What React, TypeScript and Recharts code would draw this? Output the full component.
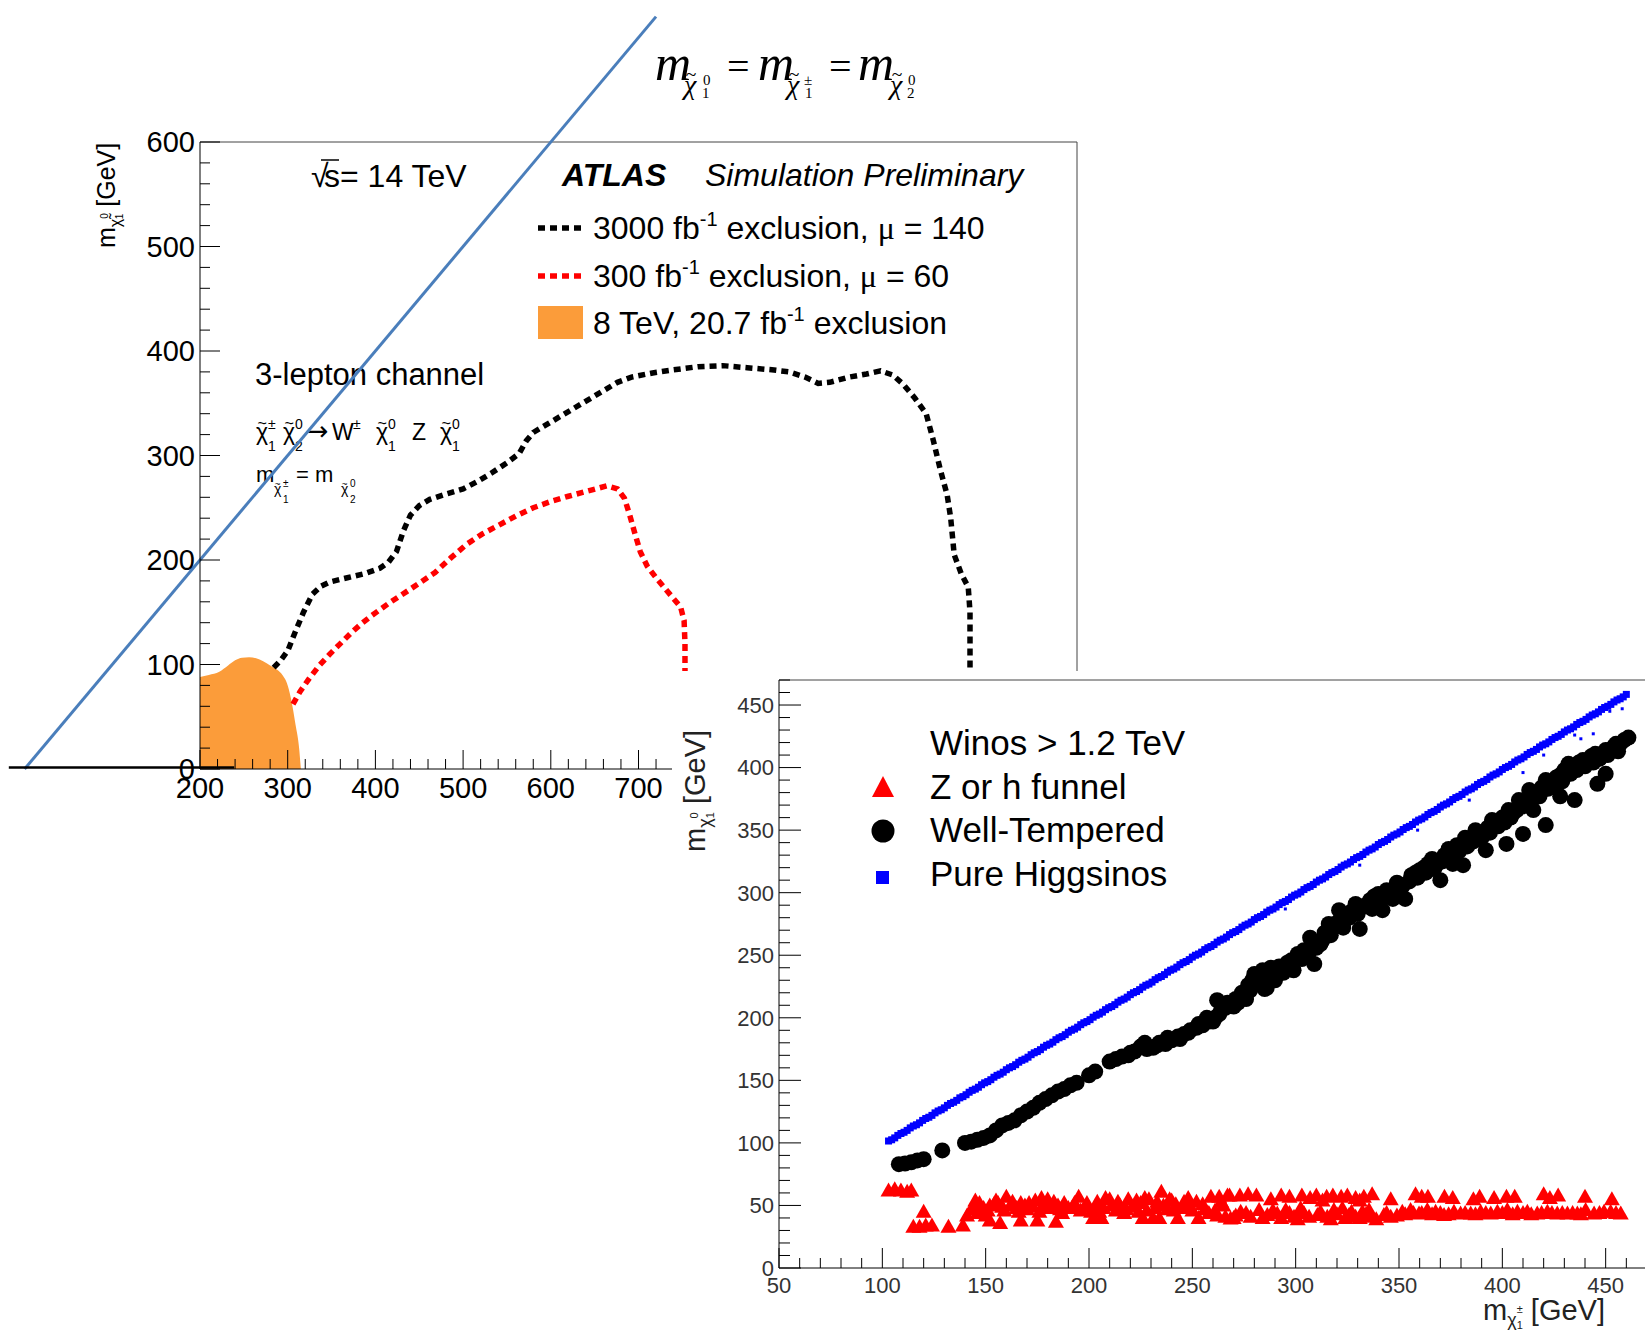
import React from 'react';
import { ComposedChart, Line, Area, XAxis, YAxis, ReferenceLine, ScatterChart, Scatter } from 'recharts';

const SANS = '"Liberation Sans", Arial, Helvetica, sans-serif';
const SERIF = '"Liberation Serif", "Times New Roman", serif';

// ---------------- Panel 1 : ATLAS 3-lepton projection ----------------
const black3000: [number, number][] = [
  [284, 97], [292, 104], [300, 113], [308, 130], [318, 150], [328, 167], [338, 175], [348, 179], [368, 183], [388, 187],
  [405, 192], [415, 198], [424, 208], [432, 228], [440, 243], [450, 252], [462, 258], [480, 263], [500, 268], [516, 275],
  [532, 283], [550, 293], [564, 302], [572, 314], [580, 322], [596, 330], [612, 338], [636, 350], [660, 362], [676, 370],
  [692, 375], [716, 379], [740, 382], [768, 385], [796, 386], [824, 384], [852, 382], [872, 380], [890, 375], [905, 369],
  [918, 370], [940, 375], [960, 378], [976, 381], [990, 377], [1002, 368], [1015, 355], [1028, 340], [1036, 315], [1044, 287],
  [1052, 262], [1056, 240], [1060, 205], [1068, 187], [1076, 174], [1078, 150], [1078, 120], [1078, 60],
];
const red300: [number, number][] = [
  [306, 62], [314, 74], [324, 86], [336, 99], [348, 110], [360, 120], [372, 130], [384, 139], [396, 147], [416, 159],
  [436, 170], [452, 179], [468, 188], [486, 202], [504, 215], [522, 225], [540, 233], [560, 242], [580, 250], [600, 256],
  [620, 261], [642, 266], [664, 271], [676, 268], [684, 259], [690, 243], [696, 225], [702, 208], [710, 194], [720, 183],
  [730, 173], [740, 163], [748, 155], [752, 142], [753, 120], [753, 60],
];
const orange8TeV: [number, number][] = [
  [200, 88], [210, 90], [222, 93], [232, 99], [240, 104], [248, 106.5], [256, 107], [264, 106], [272, 103], [280, 99],
  [288, 95], [294, 90], [300, 80], [305, 62], [309, 42], [313, 20], [315, 0],
];
const diagonalLine = [{ x: 0, y: 0 }, { x: 720, y: 720 }];
const zeroBar = [{ x: -18, y: 1.5 }, { x: 239, y: 1.5 }];

const p1XMajor = [200, 300, 400, 500, 600, 700, 800, 900, 1000, 1100, 1200];
const p1YMajor = [0, 100, 200, 300, 400, 500, 600];

// ---------------- Panel 2 : mass plane scatter ----------------
const funnelPts: [number, number][] = [
  [103, 62], [106, 63], [109, 62], [112, 61], [114, 62],
  [115, 33], [118, 33], [120, 45], [121, 34], [124, 34], [132, 33], [139, 34], [141, 42], [145, 54], [146, 44],
  [149, 48], [150, 42], [152, 50], [152, 38], [154, 51], [156, 52], [157, 36], [158, 49], [160, 57], [162, 50],
  [163, 53], [165, 48], [167, 52], [167, 38], [169, 50], [171, 52], [173, 49], [174, 54], [175, 38], [177, 56],
  [178, 50], [180, 55], [181, 48], [184, 37], [185, 50], [186, 47], [188, 52], [190, 48], [192, 49], [195, 57],
  [198, 49], [201, 45], [202, 40], [203, 48], [205, 45], [206, 40], [208, 56], [210, 55], [213, 46], [215, 50],
  [218, 47], [219, 55], [223, 54], [224, 45], [226, 40], [227, 56], [229, 55], [231, 40], [232, 48], [234, 40],
  [235, 61], [236, 50], [239, 55], [240, 54], [241, 46], [243, 40], [245, 48], [248, 56], [250, 46], [253, 40],
  [256, 47], [259, 57], [261, 46], [262, 42], [263, 57], [265, 50], [266, 41], [268, 58], [270, 40],
  [143, 47], [147, 52], [151, 46], [155, 54], [159, 46], [166, 45], [170, 47], [176, 45], [183, 53], [187, 44],
  [193, 52], [196, 46], [199, 52], [204, 53], [207, 48], [211, 50], [214, 53], [217, 44], [221, 49], [225, 52],
  [228, 46], [233, 53], [238, 47], [242, 51], [246, 53], [249, 49], [252, 53], [255, 51], [258, 44], [264, 53],
  [267, 58], [273, 58], [277, 59], [281, 58], [288, 55], [293, 58], [297, 57], [303, 58], [307, 56], [310, 58],
  [313, 54], [315, 57], [318, 58], [322, 57], [325, 58], [329, 56], [331, 54], [333, 57], [337, 59], [346, 55],
  [358, 59], [361, 57], [364, 57], [372, 57], [376, 56], [386, 55], [389, 57], [396, 56], [402, 57], [406, 57],
  [420, 59], [423, 56], [427, 58], [440, 57], [453, 55],
  [268.5, 39.6], [273.4, 45], [278.2, 41], [282.3, 46.4], [286.3, 42.3], [291.1, 43.6], [295.2, 46.4], [299.2, 41],
  [302.4, 47.7], [306.5, 41], [310.5, 42.3], [315.3, 41], [318.5, 46.4], [322.6, 47.7], [325.8, 42.3], [329, 41],
  [332.3, 45], [335.5, 46.4], [336.3, 41], [342.7, 42.3], [346, 41], [351.6, 45], [355.6, 46.4], [359.7, 43.6],
  [363.7, 46.4], [367.7, 45], [371.8, 42.3], [376.6, 45], [379.8, 43.6], [384.7, 43.6], [389.5, 45], [394.4, 43.6],
  [397.6, 45], [402.4, 46.4], [407.3, 45], [412.1, 45], [416.9, 43.6], [421.8, 45], [426.6, 43.6], [431.5, 43.6],
  [436.3, 43.6], [440.3, 46.4], [444.4, 43.6], [449.2, 45], [452.4, 45], [457.3, 43.6],
  [271, 42], [276, 44], [284, 40], [289, 46], [293, 40], [297, 44], [301, 39], [304, 44], [312, 45], [317, 39],
  [320, 43], [324, 40], [327, 45], [331, 40], [334, 43], [339, 39], [344, 44], [349, 42], [353, 43], [357, 44],
  [361, 44], [366, 43], [370, 44], [374, 43], [382, 44], [387, 43], [392, 44], [400, 44], [405, 43], [410, 44],
  [414, 43], [419, 44], [424, 44], [429, 44], [434, 44], [438, 43], [447, 44], [455, 44],
];
const wellTemperedPts: [number, number][] = [
  [108, 83], [111, 83.5], [114, 84.5], [117, 86], [120, 87], [129, 94], [140, 100], [143, 101], [146, 102.5], [149, 104],
  [152, 106], [155, 110], [158, 114], [161, 116], [164, 118], [167, 122], [170, 125], [173, 128], [176, 132], [179, 135],
  [182, 138], [185, 141], [188, 143], [191, 146], [194, 148], [200, 154], [203, 157],
  [210, 165], [213, 167], [216, 169], [219, 170], [220, 172], [222, 173], [225, 177], [227, 180], [228, 175], [231, 176],
  [233, 178], [234, 180], [237, 179], [238, 184], [240, 182], [243, 185], [244, 183], [246, 187], [248, 188], [249, 190],
  [252, 192], [253, 195], [255, 194], [257, 200], [258, 197], [260, 197], [261, 200], [263, 203],
  [262, 214], [264, 206], [266, 208], [267, 212], [268, 210], [270, 209], [271, 215], [272, 212], [274, 220], [275, 218],
  [276, 215], [277, 226], [278, 222], [279, 230], [280, 235], [281, 232], [282, 228], [283, 230], [284, 238], [285, 223],
  [286, 224], [287, 232], [288, 240], [290, 238], [290, 230], [292, 241], [294, 236], [295, 240], [296, 244], [298, 246],
  [299, 238], [301, 251], [303, 247], [304, 254], [306, 250], [307, 264], [309, 243], [310, 256], [312, 259], [313, 262],
  [314, 268], [316, 275], [317, 266], [318, 272], [320, 276], [321, 286], [323, 272], [324, 282], [326, 280], [327, 285],
  [329, 291], [330, 283], [331, 271], [333, 289], [334, 290], [336, 294], [337, 287], [338, 297], [340, 299], [341, 295],
  [342, 286], [344, 302], [345, 297], [347, 295], [348, 303], [349, 308], [351, 304], [352, 306], [353, 295], [355, 309],
  [356, 314], [358, 316], [359, 312], [360, 318], [362, 320], [363, 316], [364, 323], [366, 327], [367, 319], [368, 322],
  [370, 310], [371, 325], [372, 330], [374, 335], [375, 329], [376, 323], [378, 338], [379, 333], [381, 322], [382, 344],
  [383, 337], [384, 342], [386, 341], [387, 350], [389, 347], [390, 344], [392, 334], [393, 352], [394, 348], [395, 358],
  [397, 356], [398, 353], [400, 360], [401, 356], [402, 339], [403, 366], [404, 360], [405, 363], [407, 366], [408, 374],
  [410, 347], [410, 369], [411, 372], [413, 382], [414, 373], [415, 366], [417, 380], [418, 377], [419, 384], [421, 354],
  [421, 390], [422, 383], [424, 388], [425, 385], [426, 392], [428, 394], [428, 377], [429, 389], [430, 398], [432, 403],
  [433, 395], [435, 374], [435, 400], [436, 398], [437, 404], [439, 406], [440, 401], [441, 405], [443, 409], [444, 404],
  [445, 411], [446, 387], [447, 407], [448, 410], [450, 395], [450, 414], [451, 410], [452, 414], [454, 417], [455, 419],
  [456, 413], [457, 419], [459, 422], [461, 424],
];
const higgsinoPts: [number, number][] = [
  [103, 101.5], [106, 104], [109, 107.5], [112, 110], [115, 113.5], [118, 116], [121, 119.5], [124, 122], [127, 125.5], [130, 128],
  [133, 131.5], [136, 134], [139, 137], [142, 140.5], [145, 143], [148, 146.5], [151, 149], [154, 152.5], [157, 155], [160, 158.5],
  [163, 161], [166, 164.5], [169, 167], [172, 170.5], [175, 173], [178, 176.5], [181, 179], [184, 182.5], [187, 185], [190, 188.5],
  [193, 191], [196, 194.5], [199, 197], [202, 200.5], [205, 203], [208, 206.5], [211, 209], [214, 212.5], [217, 215], [220, 218.5],
  [223, 221], [226, 224.5], [229, 227], [232, 230.5], [235, 233], [238, 236.5], [241, 239], [244, 242.5], [247, 245], [250, 248.5],
  [253, 251], [256, 254.5], [259, 257], [262, 260.5], [265, 263], [268, 266.5], [271, 269], [274, 272.5], [277, 275], [280, 278.5],
  [283, 281], [286, 284.5], [289, 287], [292, 290.5], [295, 293], [298, 296.5], [301, 299], [304, 302.5], [307, 305], [310, 308.5],
  [313, 311], [316, 314.5], [319, 317], [322, 320.5], [325, 323], [328, 326.5], [331, 329], [334, 332.5], [337, 335], [340, 338.5],
  [343, 341], [346, 344.5], [349, 347], [352, 350.5], [355, 353], [358, 356.5], [361, 359], [364, 362.5], [367, 365], [370, 368.5],
  [373, 371], [376, 374.5], [379, 377], [382, 380.5], [385, 383], [388, 386.5], [391, 389], [394, 392.5], [397, 395], [400, 398.5],
  [403, 401], [406, 404.5], [409, 407], [412, 410.5], [415, 413], [418, 416.5], [421, 419], [424, 422.5], [427, 425], [430, 428.5],
  [433, 431], [436, 434.5], [439, 437], [442, 440.5], [445, 443], [448, 446.5], [451, 449], [454, 452.5], [457, 455], [460, 458.5],
  [104.5, 102.5], [107.5, 106], [110.5, 108.5], [113.5, 112], [116.5, 114.5], [119.5, 118], [122.5, 120.5], [125.5, 124],
  [128.5, 126.5], [131.5, 130], [134.5, 132.5], [137.5, 136], [140.5, 138.5], [143.5, 142], [146.5, 144.5], [149.5, 148],
  [152.5, 150.5], [155.5, 154], [158.5, 156.5], [161.5, 160], [164.5, 162.5], [167.5, 166], [170.5, 168.5], [173.5, 172],
  [176.5, 174.5], [179.5, 178], [182.5, 180.5], [185.5, 184], [188.5, 186.5], [191.5, 190], [194.5, 192.5], [197.5, 196],
  [200.5, 198.5], [203.5, 202], [206.5, 204.5], [209.5, 208], [212.5, 210.5], [215.5, 214], [218.5, 216.5], [221.5, 220],
  [224.5, 222.5], [227.5, 226], [230.5, 228.5], [233.5, 232], [236.5, 234.5], [239.5, 238], [242.5, 240.5], [245.5, 244],
  [248.5, 246.5], [251.5, 250], [254.5, 252.5], [257.5, 256], [260.5, 258.5], [263.5, 262], [266.5, 264.5], [269.5, 268],
  [272.5, 270.5], [275.5, 274], [278.5, 276.5], [281.5, 280], [284.5, 282.5], [287.5, 286], [290.5, 288.5], [293.5, 292],
  [296.5, 294.5], [299.5, 298], [302.5, 300.5], [305.5, 304], [308.5, 306.5], [311.5, 310], [314.5, 312.5], [317.5, 316],
  [320.5, 318.5], [323.5, 322], [326.5, 324.5], [329.5, 328], [332.5, 330.5], [335.5, 334], [338.5, 336.5], [341.5, 340],
  [344.5, 342.5], [347.5, 346], [350.5, 348.5], [353.5, 352], [356.5, 354.5], [359.5, 358], [362.5, 360.5], [365.5, 364],
  [368.5, 366.5], [371.5, 370], [374.5, 372.5], [377.5, 376], [380.5, 378.5], [383.5, 382], [386.5, 384.5], [389.5, 388],
  [392.5, 390.5], [395.5, 394], [398.5, 396.5], [401.5, 400], [404.5, 402.5], [407.5, 406], [410.5, 408.5], [413.5, 412],
  [416.5, 414.5], [419.5, 418], [422.5, 420.5], [425.5, 424], [428.5, 426.5], [431.5, 430], [434.5, 432.5], [437.5, 436],
  [440.5, 438.5], [443.5, 442], [446.5, 444.5], [449.5, 448], [452.5, 450.5], [455.5, 454], [458.5, 456.5],
];
const higgsinoStray: [number, number][] = [
  [295, 287], [331, 322], [359, 350], [384, 374], [410, 396], [420, 410], [435, 426], [438, 423], [444, 427], [452, 445], [458, 447],
];
const p2XMajor = [50, 100, 150, 200, 250, 300, 350, 400, 450];
const p2YMajor = [0, 50, 100, 150, 200, 250, 300, 350, 400, 450];

// ---------------- helpers ----------------
const toXY = (arr: [number, number][]) => arr.map(([x, y]) => ({ x, y }));
const range = (a: number, b: number, s: number) => {
  const r: number[] = [];
  for (let v = a; v <= b + 1e-9; v += s) r.push(Math.round(v * 1000) / 1000);
  return r;
};
const p1XTicks = range(200, 1200, 20);
const p1YTicks = range(0, 600, 20);
const p2XTicks = range(50, 470, 10);
const p2YTicks = range(0, 470, 10);

const makeLeftTick = (majors: number[], majorLen: number, minorLen: number, fs: number, color: string, gap: number) =>
  (props: any) => {
    const { x, y, payload } = props;
    const v = payload.value;
    const isMajor = majors.includes(v);
    return (
      <g>
        <line x1={x} y1={y} x2={x + (isMajor ? majorLen : minorLen)} y2={y} stroke="#000" strokeWidth={1} />
        {isMajor && (
          <text x={x - gap} y={y + fs * 0.36} textAnchor="end" fontSize={fs} fontFamily={SANS} fill={color}>{v}</text>
        )}
      </g>
    );
  };
const makeBottomTick = (majors: number[], majorLen: number, minorLen: number, fs: number, color: string, off: number) =>
  (props: any) => {
    const { x, y, payload } = props;
    const v = payload.value;
    const isMajor = majors.includes(v);
    return (
      <g>
        <line x1={x} y1={y} x2={x} y2={y - (isMajor ? majorLen : minorLen)} stroke="#000" strokeWidth={1} />
        {isMajor && (
          <text x={x} y={y + off} textAnchor="middle" fontSize={fs} fontFamily={SANS} fill={color}>{v}</text>
        )}
      </g>
    );
  };

const P1XTick = makeBottomTick(p1XMajor, 19, 10, 29, '#000', 29);
const P1YTick = makeLeftTick(p1YMajor, 20, 10, 29, '#000', 5);
const P2XTick = makeBottomTick(p2XMajor, 20, 10, 22, '#333', 25);
const P2YTick = makeLeftTick(p2YMajor, 22, 11, 22, '#333', 5);

const TriShape = (p: any) => (
  <polygon points={`${p.cx},${p.cy - 8} ${p.cx - 8},${p.cy + 6} ${p.cx + 8},${p.cy + 6}`} fill="#ff0000" />
);
const DotShape = (p: any) => <circle cx={p.cx} cy={p.cy} r={8} fill="#000" />;
const SqShape = (p: any) => <rect x={p.cx - 3.5} y={p.cy - 3.5} width={7} height={7} fill="#0000ff" />;
const TinySqShape = (p: any) => <rect x={p.cx - 1.5} y={p.cy - 1.5} width={3} height={3} fill="#0000ff" />;

// chi with tilde on top
const ChiT = ({ x, y, size, family, italic }: { x: number; y: number; size: number; family: string; italic?: boolean }) => (
  <g>
    <text x={x} y={y} fontSize={size} fontFamily={family} fontStyle={italic ? 'italic' : 'normal'}>χ</text>
    <text x={x + size * 0.06} y={y - size * 0.47} fontSize={size * 0.7} fontFamily={family}>~</text>
  </g>
);

const Sub = ({ x, sup, sub, yb, fs }: { x: number; sup: string; sub: string; yb: number; fs: number }) => (
  <g>
    <text x={x} y={yb - 11} fontFamily={SANS} fontSize={fs}>{sup}</text>
    <text x={x} y={yb + 11} fontFamily={SANS} fontSize={fs}>{sub}</text>
  </g>
);

export default function App() {
  return (
    <div style={{ position: 'absolute', left: 0, top: 0, width: 1645, height: 1344, overflow: 'hidden', background: '#fff' }}>
      {/* Panel 1 annotations (under the chart layer) */}
      <svg width={1645} height={1344} style={{ position: 'absolute', left: 0, top: 0 }}>
        {/* big formula */}
        <text x={655} y={80} fontFamily={SERIF} fontStyle="italic" fontSize={50}>m</text>
        <ChiT x={684} y={94} size={28} family={SERIF} italic />
        <text x={703} y={85} fontFamily={SERIF} fontSize={15}>0</text>
        <text x={702} y={98} fontFamily={SERIF} fontSize={15}>1</text>
        <text x={727} y={80} fontFamily={SERIF} fontSize={40}>=</text>
        <text x={758} y={80} fontFamily={SERIF} fontStyle="italic" fontSize={50}>m</text>
        <ChiT x={787} y={94} size={28} family={SERIF} italic />
        <text x={804} y={85} fontFamily={SERIF} fontSize={15}>±</text>
        <text x={805} y={98} fontFamily={SERIF} fontSize={15}>1</text>
        <text x={829} y={80} fontFamily={SERIF} fontStyle="normal" fontSize={40}>=</text>
        <text x={858} y={80} fontFamily={SERIF} fontStyle="italic" fontSize={50}>m</text>
        <ChiT x={890} y={94} size={28} family={SERIF} italic />
        <text x={908} y={85} fontFamily={SERIF} fontSize={15}>0</text>
        <text x={907} y={98} fontFamily={SERIF} fontSize={15}>2</text>

        {/* sqrt(s) */}
        <text x={311} y={187} fontFamily={SANS} fontSize={32}>√</text>
        <line x1={321} y1={160} x2={339} y2={160} stroke="#000" strokeWidth={1.5} />
        <text x={324} y={187} fontFamily={SANS} fontSize={32}>s= 14 TeV</text>
        <text x={562} y={186} fontFamily={SANS} fontSize={32} fontWeight="bold" fontStyle="italic">ATLAS</text>
        <text x={705} y={186} fontFamily={SANS} fontSize={32} fontStyle="italic">Simulation Preliminary</text>

        {/* legend */}
        <line x1={538} y1={228} x2={581} y2={228} stroke="#000" strokeWidth={5.5} strokeDasharray="7 5" />
        <text x={593} y={239} fontFamily={SANS} fontSize={32}>3000 fb<tspan fontSize={20} dy={-13}>-1</tspan><tspan dy={13}> exclusion, </tspan><tspan fontFamily={SERIF}>μ</tspan> = 140</text>
        <line x1={538} y1={276} x2={581} y2={276} stroke="#ff0000" strokeWidth={5.5} strokeDasharray="7 5" />
        <text x={593} y={287} fontFamily={SANS} fontSize={32}>300 fb<tspan fontSize={20} dy={-13}>-1</tspan><tspan dy={13}> exclusion, </tspan><tspan fontFamily={SERIF}>μ</tspan> = 60</text>
        <rect x={538} y={306} width={45} height={33} fill="#fb9c3a" />
        <text x={593} y={334} fontFamily={SANS} fontSize={32}>8 TeV, 20.7 fb<tspan fontSize={20} dy={-13}>-1</tspan><tspan dy={13}> exclusion</tspan></text>

        {/* channel text */}
        <text x={255} y={385} fontFamily={SANS} fontSize={31}>3-lepton channel</text>
        <ChiT x={256} y={440} size={23} family={SANS} />
        <Sub x={268} sup="±" sub="1" yb={440} fs={14} />
        <ChiT x={283} y={440} size={23} family={SANS} />
        <Sub x={295} sup="0" sub="2" yb={440} fs={14} />
        <text x={306} y={440} fontFamily={'"DejaVu Sans", sans-serif'} fontSize={27}>→</text>
        <text x={332} y={440} fontFamily={SANS} fontSize={23}>W</text>
        <text x={353} y={429} fontFamily={SANS} fontSize={14}>±</text>
        <ChiT x={376} y={440} size={23} family={SANS} />
        <Sub x={388} sup="0" sub="1" yb={440} fs={14} />
        <text x={412} y={440} fontFamily={SANS} fontSize={23}>Z</text>
        <ChiT x={440} y={440} size={23} family={SANS} />
        <Sub x={452} sup="0" sub="1" yb={440} fs={14} />

        <text x={256} y={482} fontFamily={SANS} fontSize={22}>m</text>
        <ChiT x={274} y={494} size={14} family={SANS} />
        <text x={283} y={487} fontFamily={SANS} fontSize={10}>±</text>
        <text x={283} y={503} fontFamily={SANS} fontSize={10}>1</text>
        <text x={296} y={482} fontFamily={SANS} fontSize={22}>= m</text>
        <ChiT x={341} y={494} size={14} family={SANS} />
        <text x={350} y={487} fontFamily={SANS} fontSize={10}>0</text>
        <text x={350} y={503} fontFamily={SANS} fontSize={10}>2</text>

        {/* y-axis title panel 1 */}
        <text transform="translate(115,248) rotate(-90)" fontFamily={SANS} fontSize={25}>
          m<tspan fontSize={16} dy={6}>χ̃</tspan><tspan fontSize={10} dy={-13}>0</tspan><tspan fontSize={10} dx={-6} dy={15}>1</tspan><tspan fontSize={25} dy={-8}> [GeV]</tspan>
        </text>
      </svg>

      {/* Panel 1 chart */}
      <div style={{ position: 'absolute', left: 0, top: 0 }}>
        <ComposedChart width={1645} height={1344} margin={{ top: 142, right: 568, bottom: 515, left: 0 }}>
          <XAxis dataKey="x" type="number" domain={[200, 1200]} ticks={p1XTicks} interval={0} tickSize={0} tickMargin={0}
            tickLine={false} tick={P1XTick} axisLine={{ stroke: '#000' }} height={60} allowDataOverflow />
          <YAxis dataKey="y" type="number" domain={[0, 600]} ticks={p1YTicks} interval={0} tickSize={0} tickMargin={0}
            tickLine={false} tick={P1YTick} axisLine={{ stroke: '#000' }} width={200} allowDataOverflow />
          <ReferenceLine y={600} stroke="#444" />
          <ReferenceLine x={1200} stroke="#444" />
          <Line data={toXY(black3000)} dataKey="y" type="linear" stroke="#000" strokeWidth={5.5} strokeDasharray="7 5"
            dot={false} isAnimationActive={false} />
          <Line data={toXY(red300)} dataKey="y" type="linear" stroke="#ff0000" strokeWidth={5.5} strokeDasharray="7 5"
            dot={false} isAnimationActive={false} />
          <Area data={toXY(orange8TeV)} dataKey="y" type="monotone" stroke="none" fill="#fb9c3a" fillOpacity={1}
            isAnimationActive={false} />
          <ReferenceLine segment={diagonalLine} stroke="#4a7ebb" strokeWidth={3} ifOverflow="visible" />
          <ReferenceLine segment={zeroBar} stroke="#000" strokeWidth={2.5} ifOverflow="visible" />
        </ComposedChart>
      </div>

      {/* Panel 2 */}
      <div style={{ position: 'absolute', left: 672, top: 671, width: 975, height: 673, background: '#fff' }}>
        <ScatterChart width={975} height={673} margin={{ top: 9, right: 0, bottom: 0, left: 0 }}>
          <XAxis dataKey="x" type="number" domain={[50, 470]} ticks={p2XTicks} interval={0} tickSize={0} tickMargin={0}
            tickLine={false} tick={P2XTick} axisLine={{ stroke: '#000' }} height={76} allowDataOverflow />
          <YAxis dataKey="y" type="number" domain={[0, 470]} ticks={p2YTicks} interval={0} tickSize={0} tickMargin={0}
            tickLine={false} tick={P2YTick} axisLine={{ stroke: '#000' }} width={107} allowDataOverflow />
          <ReferenceLine y={470} stroke="#444" />
          <Scatter data={toXY(higgsinoPts)} shape={SqShape} isAnimationActive={false} />
          <Scatter data={toXY(higgsinoStray)} shape={TinySqShape} isAnimationActive={false} />
          <Scatter data={toXY(wellTemperedPts)} shape={DotShape} isAnimationActive={false} />
          <Scatter data={toXY(funnelPts)} shape={TriShape} isAnimationActive={false} />
        </ScatterChart>
      </div>

      {/* Panel 2 annotations */}
      <svg width={1645} height={1344} style={{ position: 'absolute', left: 0, top: 0, pointerEvents: 'none' }}>
        <text x={930} y={755} fontFamily={SANS} fontSize={35}>Winos &gt; 1.2 TeV</text>
        <polygon points="883,776 872,797 894,797" fill="#ff0000" />
        <text x={930} y={799} fontFamily={SANS} fontSize={35}>Z or h funnel</text>
        <circle cx={883} cy={831} r={11.5} fill="#000" />
        <text x={930} y={842} fontFamily={SANS} fontSize={35}>Well-Tempered</text>
        <rect x={876} y={871} width={13} height={13} fill="#0000ff" />
        <text x={930} y={886} fontFamily={SANS} fontSize={35}>Pure Higgsinos</text>

        <text transform="translate(705,852) rotate(-90)" fontFamily={SANS} fontSize={29} fill="#222">
          m<tspan fontSize={18} dy={6}>χ</tspan><tspan fontSize={11} dy={-13}>0</tspan><tspan fontSize={11} dx={-6} dy={16}>1</tspan><tspan fontSize={29} dy={-9}> [GeV]</tspan>
        </text>
        <text x={1605} y={1320} textAnchor="end" fontFamily={SANS} fontSize={29} fill="#222">
          m<tspan fontSize={18} dy={6}>χ</tspan><tspan fontSize={11} dy={-13}>±</tspan><tspan fontSize={11} dx={-6} dy={16}>1</tspan><tspan fontSize={29} dy={-9}> [GeV]</tspan>
        </text>
      </svg>
    </div>
  );
}
